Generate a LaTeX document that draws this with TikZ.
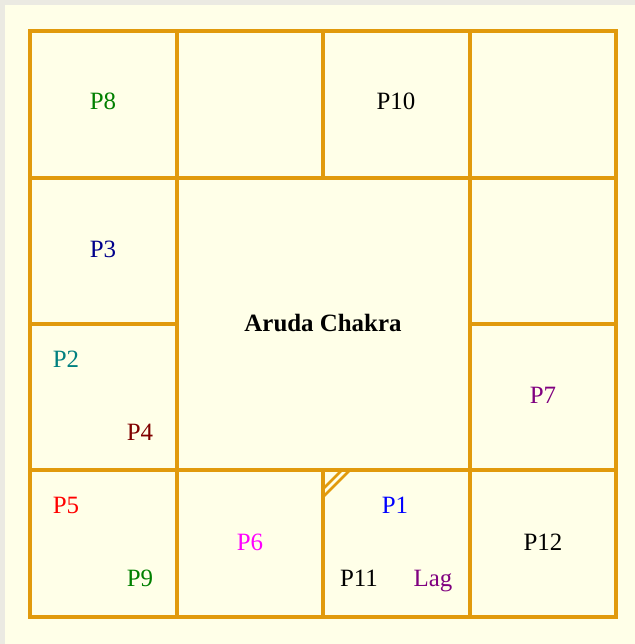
\documentclass[tikz,border=0pt]{standalone}
\usepackage{fontspec}
\setmainfont{Liberation Serif}
\usepackage{tikz}
\usepackage{xcolor}
\definecolor{paper}{RGB}{255,255,232}
\definecolor{frame}{RGB}{235,234,226}
\definecolor{gridline}{RGB}{225,154,12}
\definecolor{pteal}{RGB}{0,128,128}
\definecolor{pnavy}{RGB}{0,0,139}
\definecolor{pgreen}{RGB}{0,128,0}
\definecolor{pmaroon}{RGB}{128,0,0}
\definecolor{ppurple}{RGB}{128,0,128}
\definecolor{pmagenta}{RGB}{255,0,255}
\definecolor{pred}{RGB}{255,0,0}
\definecolor{pblue}{RGB}{0,0,255}
\tikzset{
  house/.style={draw=gridline,line width=3.8bp},
  lab/.style={anchor=base,inner sep=0pt,font=\fontsize{25}{30}\selectfont}
}

\begin{document}
\begin{tikzpicture}[x=1bp,y=-1bp]
  % paper
  \useasboundingbox (0,0) rectangle (635,644);
  \fill[frame] (0,0) rectangle (635,644);
  \fill[paper] (5,5) rectangle (635,644);
  % grid
  \draw[house] (30,31) rectangle (616,617);
  \foreach \y in {178,470}
    \draw[house] (30,\y) -- (616,\y);
  \foreach \x in {177,470}
    \draw[house] (\x,31) -- (\x,617);
  \draw[house] (323,31) -- (323,178);
  \draw[house] (323,470) -- (323,617);
  \draw[house] (30,324) -- (177,324);
  \draw[house] (470,324) -- (616,324);
  % lagna mark
  \draw[gridline,line width=2.6bp] (350,470) -- (323,497);
  \draw[gridline,line width=2.6bp] (342,470) -- (323,489);
  % planets: x, baseline, label, colour
  \foreach \x/\y/\lab/\col in {
    103/110/P8/pgreen,
    396/110/P10/black,
    103/257/P3/pnavy,
    66/367/P2/pteal,
    140/440/P4/pmaroon,
    543/403/P7/ppurple,
    66/513/P5/pred,
    140/586/P9/pgreen,
    250/550/P6/pmagenta,
    395/513/P1/pblue,
    359/586/P11/black,
    433/586/Lag/ppurple,
    543/550/P12/black}
    \node[lab,text=\col] (\lab) at (\x,\y) {\lab};
  \node[lab,font=\fontsize{25}{30}\selectfont\bfseries] (title) at (323,331) {Aruda Chakra};
\end{tikzpicture}
\end{document}
